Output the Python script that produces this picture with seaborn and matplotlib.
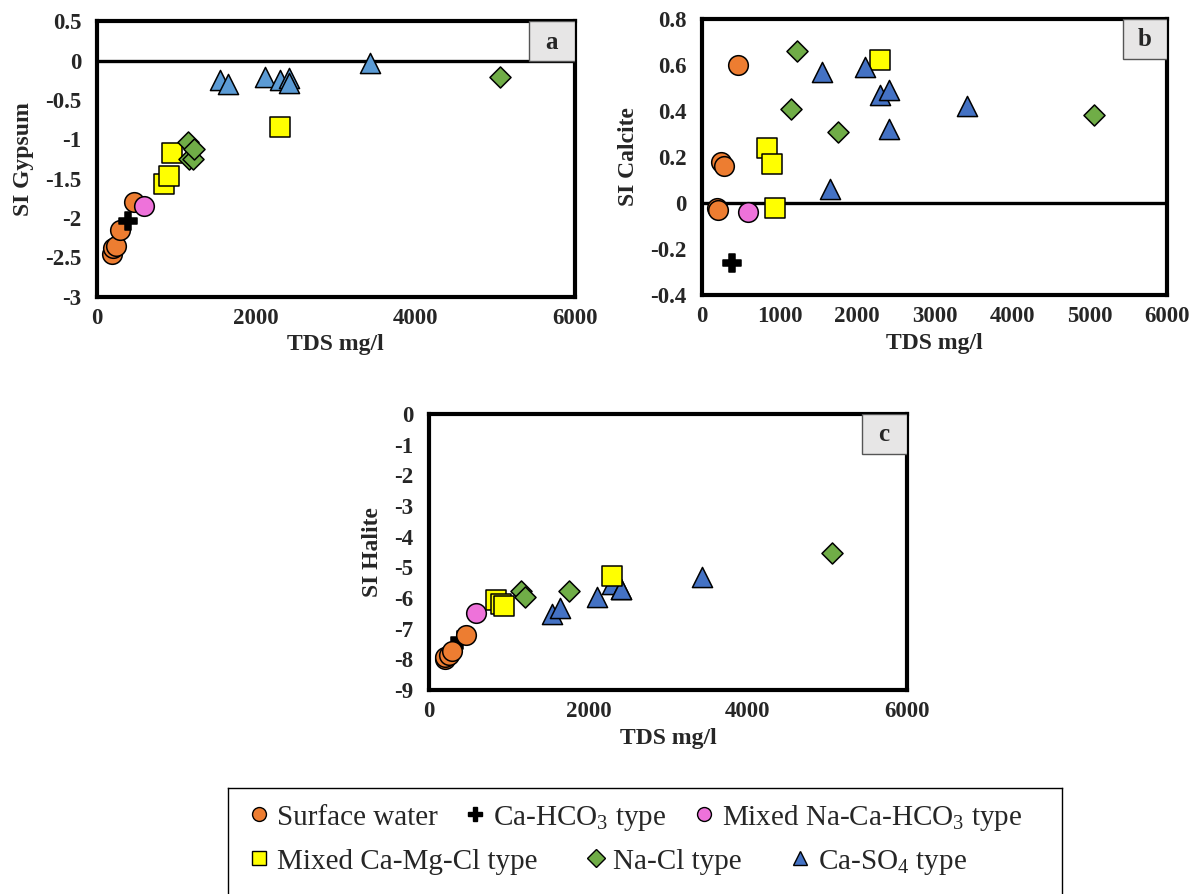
import numpy as np
import pandas as pd
import matplotlib
matplotlib.use('Agg')
import matplotlib.pyplot as plt
import seaborn as sns
from matplotlib.lines import Line2D
from matplotlib.patches import Rectangle
from matplotlib.ticker import FuncFormatter, MultipleLocator

sns.set_theme(style='white')
plt.rcParams['font.family'] = ['Liberation Serif', 'DejaVu Serif']
plt.rcParams['mathtext.fontset'] = 'custom'
plt.rcParams['mathtext.rm'] = 'Liberation Serif'
plt.rcParams['axes.unicode_minus'] = False

nan = np.nan

# Grupos de agua
groups = ['Surface water', 'Ca-HCO$_3$ type', 'Mixed Na-Ca-HCO$_3$ type',
          'Mixed Ca-Mg-Cl type', 'Na-Cl type', 'Ca-SO$_4$ type']

# TDS (mg/l) e índices de saturación por grupo
sw_tds = [195, 205, 245, 285, 470]
sw_gyp = [-2.45, -2.38, -2.36, -2.15, -1.80]
sw_cal = [-0.02, -0.03, 0.18, 0.16, 0.60]
sw_hal = [-7.98, -7.92, -7.85, -7.74, -7.20]

cahco3_tds = [385]
cahco3_gyp = [-2.04]
cahco3_cal = [-0.26]
cahco3_hal = [-7.38]

mixnaca_tds = [595]
mixnaca_gyp = [-1.84]
mixnaca_cal = [-0.04]
mixnaca_hal = [-6.48]

mixcamg_tds = [840, 900, 945, 2295]
mixcamg_gyp = [-1.57, -1.47, -1.17, -0.84]
mixcamg_cal = [0.24, 0.17, -0.02, 0.62]
mixcamg_hal = [-6.08, -6.19, -6.25, -5.27]

nacl_tds = [1150, 1160, 1210, 1225, 1760, 5060]
nacl_gyp = [-1.03, -1.25, -1.25, -1.12, nan, -0.21]
nacl_cal = [0.41, nan, nan, 0.66, 0.31, 0.38]
nacl_hal = [-5.76, nan, -5.97, nan, -5.76, -4.53]

caso4_tds = [1545, 1645, 2105, 2300, 2410, 2415, 3425]
caso4_gyp = [-0.25, -0.30, -0.20, -0.25, -0.22, -0.28, -0.03]
caso4_cal = [0.57, 0.06, 0.59, 0.47, 0.49, 0.32, 0.42]
caso4_hal = [-6.52, -6.33, -5.97, -5.55, -5.70, -5.72, -5.32]

# Tabla larga
parts = [
    (groups[0], sw_tds, sw_gyp, sw_cal, sw_hal),
    (groups[1], cahco3_tds, cahco3_gyp, cahco3_cal, cahco3_hal),
    (groups[2], mixnaca_tds, mixnaca_gyp, mixnaca_cal, mixnaca_hal),
    (groups[3], mixcamg_tds, mixcamg_gyp, mixcamg_cal, mixcamg_hal),
    (groups[4], nacl_tds, nacl_gyp, nacl_cal, nacl_hal),
    (groups[5], caso4_tds, caso4_gyp, caso4_cal, caso4_hal),
]
df = pd.concat([
    pd.DataFrame({'group': g, 'tds': t, 'gypsum': a, 'calcite': b, 'halite': c})
    for g, t, a, b, c in parts
], ignore_index=True)

# Estilos
colors = {
    groups[0]: '#ED7D31',
    groups[1]: 'black',
    groups[2]: '#EE72DA',
    groups[3]: '#FFFF00',
    groups[4]: '#70AD47',
    groups[5]: '#4472C4',
}
markers = {groups[0]: 'o', groups[1]: 'P', groups[2]: 'o',
           groups[3]: 's', groups[4]: 'D', groups[5]: '^'}
sizes = {groups[0]: 200, groups[1]: 170, groups[2]: 200,
         groups[3]: 190, groups[4]: 115, groups[5]: 210}

fig = plt.figure(figsize=(11.97, 8.94), dpi=100)
ax_a = fig.add_axes([0.081, 0.668, 0.399, 0.308])
ax_b = fig.add_axes([0.5865, 0.670, 0.3885, 0.309])
ax_c = fig.add_axes([0.3584, 0.2282, 0.3993, 0.3087])

fmt = FuncFormatter(lambda v, p: f'{v:g}')


def draw_panel(ax, col, ylabel, ylim, ystep, xstep, letter, zero_line, blue, order):
    if zero_line:
        ax.axhline(0, color='black', lw=2.4, zorder=1)
    for g in order:
        sub = df[df['group'] == g]
        c = blue if g == groups[5] else colors[g]
        sns.scatterplot(data=sub, x='tds', y=col, marker=markers[g], s=sizes[g],
                        color=c, edgecolor='black', linewidth=1.1,
                        ax=ax, zorder=3, legend=False)
    ax.set_xlim(0, 6000)
    ax.set_ylim(*ylim)
    ax.xaxis.set_major_locator(MultipleLocator(xstep))
    ax.yaxis.set_major_locator(MultipleLocator(ystep))
    ax.xaxis.set_major_formatter(fmt)
    ax.yaxis.set_major_formatter(fmt)
    ax.tick_params(length=0, labelsize=16.5)
    ax.tick_params(axis='y', pad=11)
    ax.tick_params(axis='x', pad=8)
    for lab in ax.get_xticklabels() + ax.get_yticklabels():
        lab.set_fontweight('bold')
    ax.set_xlabel('TDS mg/l', fontsize=17, fontweight='bold', labelpad=4)
    ax.set_ylabel(ylabel, fontsize=17, fontweight='bold', labelpad=8)
    for sp in ax.spines.values():
        sp.set_linewidth(3)
        sp.set_color('black')
    ax.add_patch(Rectangle((0.905, 0.855), 0.095, 0.145, transform=ax.transAxes,
                           facecolor='#E7E6E6', edgecolor='#555555', lw=1, zorder=4))
    ax.text(0.952, 0.925, letter, transform=ax.transAxes, ha='center', va='center',
            fontsize=18, fontweight='bold', zorder=5)


order_c = [groups[1], groups[0], groups[2], groups[4], groups[5], groups[3]]
draw_panel(ax_a, 'gypsum', 'SI Gypsum', (-3, 0.5), 0.5, 2000, 'a', True, '#5B9BD5', groups)
draw_panel(ax_b, 'calcite', 'SI Calcite', (-0.4, 0.8), 0.2, 1000, 'b', True, '#4472C4', groups)
draw_panel(ax_c, 'halite', 'SI Halite', (-9, 0), 1, 2000, 'c', False, '#4472C4', order_c)

# Leyenda
lax = fig.add_axes([0.1905, 0.0, 0.6967, 0.1186])
lax.set_xticks([])
lax.set_yticks([])
lax.set_facecolor('none')
for sp in lax.spines.values():
    sp.set_linewidth(1)
    sp.set_color('black')
lax.spines['bottom'].set_visible(False)

handles = [Line2D([], [], ls='none', marker=markers[g], color=colors[g],
                  markeredgecolor='black', markersize=10 if g != groups[4] else 9,
                  label=g) for g in groups]
leg1 = lax.legend(handles=handles[:3], loc='center left', bbox_to_anchor=(0.02, 0.72),
                  ncol=3, frameon=False, fontsize=21, handletextpad=0.1,
                  columnspacing=0.8, handlelength=1.0, borderpad=0, borderaxespad=0)
lax.add_artist(leg1)
lax.legend(handles=handles[3:], loc='center left', bbox_to_anchor=(0.02, 0.30),
           ncol=3, frameon=False, fontsize=21, handletextpad=0.1,
           columnspacing=1.5, handlelength=1.0, borderpad=0, borderaxespad=0)

fig.savefig('out.png', dpi=100)
